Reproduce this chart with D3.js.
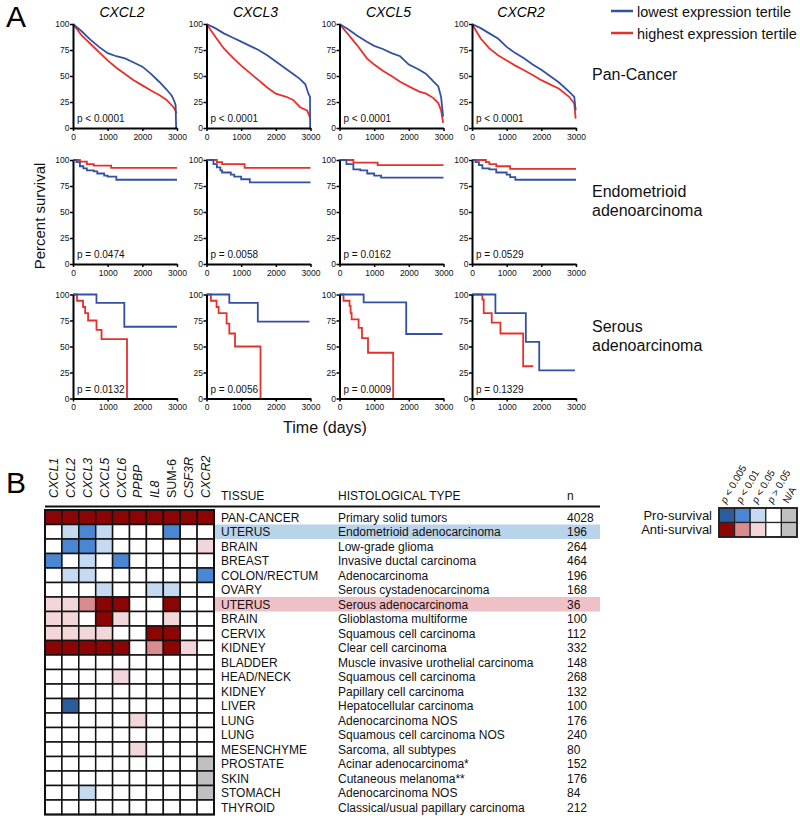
<!DOCTYPE html>
<html><head><meta charset="utf-8">
<script src="https://cdn.jsdelivr.net/npm/d3@7"></script>
<style>body{margin:0;background:#fff}svg{display:block;font-family:Arial,"Liberation Sans",sans-serif}</style>
</head><body><svg id="c" width="800" height="816"></svg>
<script>
// ---------- Panel A data ----------
const genes = ["CXCL2", "CXCL3", "CXCL5", "CXCR2"];
const cohorts = [["Pan-Cancer"], ["Endometrioid", "adenoarcinoma"], ["Serous", "adenoarcinoma"]];
const pTexts = [
  ["p < 0.0001", "p < 0.0001", "p < 0.0001", "p < 0.0001"],
  ["p = 0.0474", "p = 0.0058", "p = 0.0162", "p = 0.0529"],
  ["p = 0.0132", "p = 0.0056", "p = 0.0009", "p = 0.1329"]
];
const seriesNames = ["lowest expression tertile", "highest expression tertile"];
const xTicks = [0, 1000, 2000, 3000];
const yTicks = [0, 25, 50, 75, 100];

// [days, percent survival]
const panLow = [
  [[0,100],[250,93],[500,85],[750,78],[1000,72],[1250,69],[1500,67],[1750,63],[2000,59],[2250,52],[2500,44],[2700,37],[2850,31],[2920,26],[2960,22],[2975,0]],
  [[0,100],[250,96],[500,91],[750,87],[1000,83],[1250,79],[1500,75],[1750,70],[2000,64],[2250,58],[2500,52],[2700,47],[2850,42],[2940,33],[2985,30],[2990,0]],
  [[0,100],[250,95],[500,89],[790,83],[1000,79],[1250,76],[1500,72],[1750,69],[2000,61],[2300,56],[2500,52],[2700,45],[2850,40],[2930,30],[2990,11]],
  [[0,100],[250,96],[500,91],[750,86],[1000,78],[1250,72],[1500,67],[1750,61],[2000,56],[2250,50],[2500,44],[2800,35],[2950,30],[2990,17]]
];
const panHigh = [
  [[0,100],[250,89],[500,81],[750,73],[1000,65],[1250,58],[1500,52],[1750,46],[2000,41],[2250,36],[2500,31.5],[2700,27],[2900,20],[2950,17],[2990,14]],
  [[0,100],[250,88],[500,76.5],[750,68],[1000,60],[1250,53],[1500,46],[1750,39],[2000,33],[2300,30],[2500,27],[2700,20],[2900,17],[2990,10]],
  [[0,100],[250,90],[500,80],[790,67],[1000,61],[1250,55],[1500,50],[1750,44.5],[2000,40],[2300,35],[2500,33],[2700,29],[2850,24],[2930,17],[2990,5]],
  [[0,100],[250,86],[500,76.5],[750,70],[1000,65],[1250,60],[1500,55.6],[1750,51],[2000,46],[2250,42],[2500,38],[2800,30],[2950,23.5],[2990,9]]
];
const endoLow = [
  [[0,100],[100,98],[200,94],[300,92],[400,90],[600,89],[700,87],[900,85],[1000,84],[1250,81],[3000,81]],
  [[0,100],[200,96],[300,93],[400,90],[450,88],[700,86],[800,84],[1000,81.5],[1250,78.5],[3000,78.5]],
  [[0,100],[200,96],[400,91],[600,90],[800,87],[1000,85],[1200,83],[3000,83]],
  [[0,100],[100,98],[200,95],[300,92],[500,91],[700,88],[1000,86],[1100,83.5],[1250,81],[3000,81]]
];
const endoHigh = [
  [[0,100],[200,98.5],[400,96],[600,94.5],[1100,92.5],[3000,92.5]],
  [[0,100],[300,98],[450,96],[1100,92.5],[3000,92.5]],
  [[0,100],[400,97.5],[1100,95],[3000,95]],
  [[0,100],[400,98],[500,96],[700,94],[1100,91.5],[3000,91.5]]
];
const serLow = [
  [[0,100],[677,92],[1480,69],[3000,69]],
  [[0,100],[658,92],[1480,74],[2970,74]],
  [[0,100],[697,92.5],[1924,62],[2970,62]],
  [[0,100],[675,82],[1553,54.5],[1939,27],[2970,27]]
];
const serHigh = [
  [[0,100],[116,94],[290,88],[350,82],[435,75],[677,66],[823,57],[1558,0]],
  [[0,100],[126,94],[290,88],[350,82],[580,72],[658,62.5],[823,50],[1558,0]],
  [[0,100],[116,94],[290,89],[320,82],[350,76],[551,68],[648,58],[822,44],[1548,0]],
  [[0,100],[299,95],[338,82],[569,73],[820,62.5],[1476,31],[1765,31]]
];
const lowSets = [panLow, endoLow, serLow];
const highSets = [panHigh, endoHigh, serHigh];

// ---------- Panel B data ----------
const heatGenes = ["CXCL1", "CXCL2", "CXCL3", "CXCL5", "CXCL6", "PPBP", "IL8", "SUM-6", "CSF3R", "CXCR2"];
const heatItalic = [true, true, true, true, true, true, true, false, true, true];
const tissues = ["PAN-CANCER","UTERUS","BRAIN","BREAST","COLON/RECTUM","OVARY","UTERUS","BRAIN","CERVIX","KIDNEY","BLADDER","HEAD/NECK","KIDNEY","LIVER","LUNG","LUNG","MESENCHYME","PROSTATE","SKIN","STOMACH","THYROID"];
const histTypes = ["Primary solid tumors","Endometrioid adenocarcinoma","Low-grade glioma","Invasive ductal carcinoma","Adenocarcinoma","Serous cystadenocarcinoma","Serous adenocarcinoma","Glioblastoma multiforme","Squamous cell carcinoma","Clear cell carcinoma","Muscle invasive urothelial carcinoma","Squamous cell carcinoma","Papillary cell carcinoma","Hepatocellular carcinoma","Adenocarcinoma NOS","Squamous cell carcinoma NOS","Sarcoma, all subtypes","Acinar adenocarcinoma*","Cutaneous melanoma**","Adenocarcinoma NOS","Classical/usual papillary carcinoma"];
const nValues = [4028,196,264,464,196,168,36,100,112,332,148,268,132,100,176,240,80,152,176,84,212];
// codes: +3/+2/+1 pro-survival (p<0.005/0.01/0.05), -3/-2/-1 anti-survival, 0 p>0.05, null N/A
const heatValues = [
  [-3,-3,-3,-3,-3,-3,-3,-3,-3,-3],
  [0,1,2,1,0,0,0,2,0,0],
  [0,2,2,1,0,0,0,0,0,-1],
  [2,0,1,0,2,0,0,0,0,0],
  [0,1,1,0,0,0,0,0,0,2],
  [0,0,0,1,0,0,1,1,0,0],
  [-1,-1,-2,-3,-3,0,0,-3,0,0],
  [-1,-1,0,-3,-1,0,0,-1,0,0],
  [-1,-1,-1,-1,0,0,-3,-3,0,0],
  [-3,-3,-3,-3,-3,0,-2,-3,-1,0],
  [0,0,0,0,0,0,0,0,0,0],
  [0,0,0,0,-1,0,0,0,0,0],
  [0,0,0,0,0,0,0,0,0,0],
  [0,3,0,0,0,0,0,0,0,0],
  [0,0,0,0,0,-1,0,0,0,0],
  [0,0,0,0,0,0,0,0,0,0],
  [0,0,0,0,0,-1,0,0,0,0],
  [0,0,0,0,0,0,0,0,0,null],
  [0,0,0,0,0,0,0,0,0,null],
  [0,0,1,0,0,0,0,0,0,null],
  [0,0,0,0,0,0,0,0,0,0]
];
const highlightRows = [{row: 1, color: "#b9d4ea"}, {row: 6, color: "#f0c0c7"}];
const legendLabels = ["p < 0.005", "p < 0.01", "p < 0.05", "p > 0.05", "N/A"];
const legendRows = ["Pro-survival", "Anti-survival"];
const legendCodes = [[3, 2, 1, 0, null], [-3, -2, -1, 0, null]];

// ---------- drawing ----------
const svg = d3.select("#c");
const BLUE = "#3450a3", RED = "#e8302a";
const plotW = 104, plotH = 104;
const plotX = d3.scaleOrdinal().domain(d3.range(4)).range([73, 206.5, 339.5, 472]);
const plotY = d3.scaleOrdinal().domain(d3.range(3)).range([24, 160, 294.5]);
const x = d3.scaleLinear().domain([0, 3000]).range([0, plotW]);
const y = d3.scaleLinear().domain([0, 100]).range([plotH, 0]);

// fit a text element to a target width by adjusting its font size
function fitWidth(sel, target) {
  const node = sel.node();
  const w = node.getComputedTextLength();
  if (w > 0) {
    const fs = parseFloat(sel.attr("font-size"));
    sel.attr("font-size", fs * target / w);
  }
  return sel;
}

svg.append("text").attr("x", 6).attr("y", 27).attr("font-size", 30).text("A");

genes.forEach((g, i) => {
  svg.append("text").attr("x", plotX(i) + plotW / 2 - 3).attr("y", 17).attr("text-anchor", "middle")
    .attr("font-size", 14).attr("font-style", "italic").text(g);
});

for (let r = 0; r < 3; r++) {
  for (let c = 0; c < 4; c++) {
    const gp = svg.append("g").attr("transform", `translate(${plotX(c)},${plotY(r)})`);
    const curve = r === 0 ? d3.curveLinear : d3.curveStepAfter;
    const line = d3.line().x(d => x(d[0])).y(d => y(d[1])).curve(curve);
    gp.append("path").datum(highSets[r][c]).attr("d", line).attr("fill", "none").attr("stroke", RED).attr("stroke-width", 1.8);
    gp.append("path").datum(lowSets[r][c]).attr("d", line).attr("fill", "none").attr("stroke", BLUE).attr("stroke-width", 1.8);
    const ya = gp.append("g").call(d3.axisLeft(y).tickValues(yTicks).tickFormat(d3.format("d")).tickSize(3).tickSizeOuter(0));
    const xa = gp.append("g").attr("transform", `translate(0,${plotH})`).call(d3.axisBottom(x).tickValues(xTicks).tickFormat(d3.format("d")).tickSize(3).tickSizeOuter(0));
    [ya, xa].forEach(a => {
      a.select(".domain").attr("stroke", "#000").attr("stroke-width", 2);
      a.selectAll(".tick line").attr("stroke", "#000").attr("stroke-width", 1.5);
      a.selectAll("text").attr("font-size", 8.5).attr("fill", "#111").attr("font-family", "Arial, 'Liberation Sans', sans-serif");
    });
    ya.selectAll("text").attr("x", -3.5);
    xa.selectAll("text").attr("y", 5.5);
    gp.append("text").attr("x", 4).attr("y", plotH - 6).attr("font-size", 10).attr("fill", "#111").text(pTexts[r][c]);
  }
  const lines = cohorts[r];
  const cy = plotY(r) + (r === 0 ? 56 : 37);
  lines.forEach((t, k) => {
    svg.append("text").attr("x", 592).attr("y", cy + k * 19).attr("font-size", 16).attr("fill", "#111").text(t);
  });
}

// legend A
const legW = [154, 160];
seriesNames.forEach((s, i) => {
  const yy = 11 + i * 22;
  svg.append("line").attr("x1", 611).attr("x2", 633).attr("y1", yy).attr("y2", yy).attr("stroke", i === 0 ? BLUE : RED).attr("stroke-width", 2.5);
  const t = svg.append("text").attr("x", 637).attr("y", yy + 5.5).attr("font-size", 15).attr("fill", "#111").text(s);
  fitWidth(t, legW[i]);
});

svg.append("text").attr("transform", "translate(45,216) rotate(-90)").attr("text-anchor", "middle").attr("font-size", 15).attr("fill", "#111").text("Percent survival");
svg.append("text").attr("x", 325).attr("y", 433).attr("text-anchor", "middle").attr("font-size", 16).attr("fill", "#111").text("Time (days)");

// ---------- Panel B ----------
svg.append("text").attr("x", 6).attr("y", 493).attr("font-size", 30).text("B");

const color = v => {
  if (v === null) return "#c0c0c0";
  const m = {3: "#2b5c9c", 2: "#4a86d2", 1: "#c5d9f0", 0: "#ffffff", "-1": "#f2d6d9", "-2": "#d98b8e", "-3": "#8b0505"};
  return m[v];
};
const gx = d3.scaleBand().domain(heatGenes).range([45, 214]);
const gy = d3.scaleBand().domain(d3.range(tissues.length)).range([510, 814.5]);

// highlight bands
highlightRows.forEach(h => {
  svg.append("rect").attr("x", 214).attr("y", gy(h.row)).attr("width", 386).attr("height", gy.bandwidth()).attr("fill", h.color);
});

const cells = svg.append("g");
heatValues.forEach((row, r) => {
  row.forEach((v, c) => {
    cells.append("rect").attr("x", gx(heatGenes[c])).attr("y", gy(r)).attr("width", gx.bandwidth()).attr("height", gy.bandwidth())
      .attr("fill", color(v)).attr("stroke", "#111").attr("stroke-width", 1.5);
  });
});
svg.append("rect").attr("x", 45).attr("y", 510).attr("width", 169).attr("height", 304.5).attr("fill", "none").attr("stroke", "#111").attr("stroke-width", 2);

heatGenes.forEach((g, i) => {
  svg.append("text").attr("transform", `translate(${gx(g) + gx.bandwidth() / 2 + 4.5},498) rotate(-90)`)
    .attr("font-size", 12.5).attr("font-style", heatItalic[i] ? "italic" : "normal").attr("fill", "#111").text(g);
});

svg.append("line").attr("x1", 45).attr("x2", 600).attr("y1", 506.5).attr("y2", 506.5).attr("stroke", "#111").attr("stroke-width", 2);
const colT = 221, colH = 338, colN = 567;
[["TISSUE", colT], ["HISTOLOGICAL TYPE", colH], ["n", colN]].forEach(([t, xx]) => {
  svg.append("text").attr("x", xx).attr("y", 500).attr("font-size", 12).attr("fill", "#111").text(t);
});
tissues.forEach((t, r) => {
  const by = gy(r) + gy.bandwidth() / 2 + 4.3;
  svg.append("text").attr("x", colT).attr("y", by).attr("font-size", 12).attr("fill", "#111").text(t);
  svg.append("text").attr("x", colH).attr("y", by).attr("font-size", 12).attr("fill", "#111").text(histTypes[r]);
  svg.append("text").attr("x", colN).attr("y", by).attr("font-size", 12).attr("fill", "#111").text(nValues[r]);
});

// legend B
const lx = d3.scaleBand().domain(d3.range(5)).range([719, 797]);
const ly = d3.scaleBand().domain(d3.range(2)).range([508, 537]);
legendCodes.forEach((row, r) => {
  svg.append("text").attr("x", 712).attr("y", ly(r) + ly.bandwidth() / 2 + 4.5).attr("text-anchor", "end").attr("font-size", 13).attr("fill", "#111").text(legendRows[r]);
  row.forEach((v, c) => {
    svg.append("rect").attr("x", lx(c)).attr("y", ly(r)).attr("width", lx.bandwidth()).attr("height", ly.bandwidth())
      .attr("fill", color(v)).attr("stroke", "#222").attr("stroke-width", 1.2);
  });
});
svg.append("rect").attr("x", 719).attr("y", 508).attr("width", 78).attr("height", 29).attr("fill", "none").attr("stroke", "#222").attr("stroke-width", 1.8);
legendLabels.forEach((t, c) => {
  const tx = svg.append("text").attr("transform", `translate(${lx(c) + lx.bandwidth() / 2 - 1},504) rotate(-60)`)
    .attr("font-size", 10).attr("fill", "#111");
  if (t.startsWith("p")) {
    tx.append("tspan").attr("font-style", "italic").text("p");
    tx.append("tspan").text(t.slice(1));
  } else tx.text(t);
});
</script></body></html>
